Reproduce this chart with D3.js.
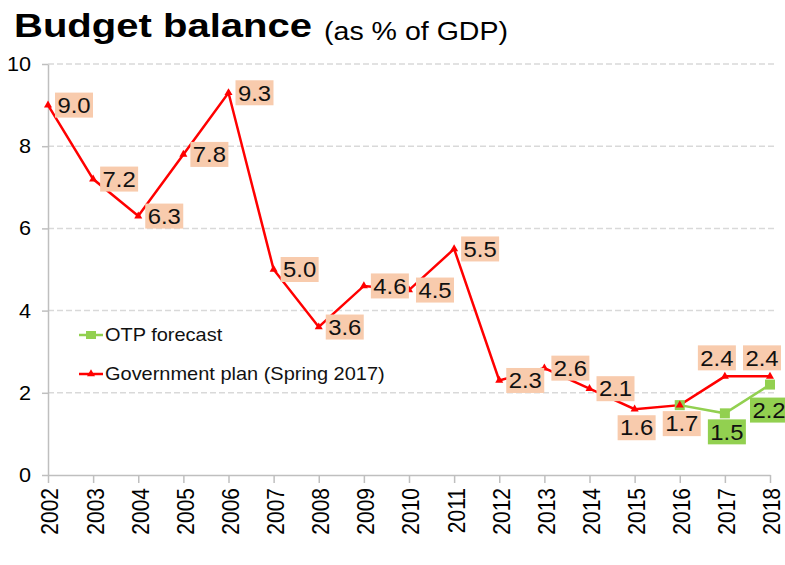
<!DOCTYPE html>
<html>
<head>
<meta charset="utf-8">
<script src="https://cdn.jsdelivr.net/npm/d3@7"></script>
<style>
  html, body { margin: 0; padding: 0; background: #fff; }
  svg { display: block; font-family: "Liberation Sans", Arial, sans-serif; }
</style>
</head>
<body>
<svg id="chart" width="785" height="565"></svg>
<script>
// ---- data ----
const years = ["2002","2003","2004","2005","2006","2007","2008","2009","2010","2011","2012","2013","2014","2015","2016","2017","2018"];
const govPlan = [9.0, 7.2, 6.3, 7.8, 9.3, 5.0, 3.6, 4.6, 4.5, 5.5, 2.3, 2.6, 2.1, 1.6, 1.7, 2.4, 2.4];
const otpYears = ["2016","2017","2018"];
const otpForecast = [1.7, 1.5, 2.2];
const yTicks = [0, 2, 4, 6, 8, 10];
const seriesNames = ["OTP forecast", "Government plan (Spring 2017)"];
const titleText = "Budget balance";
const subtitleText = "(as % of GDP)";
// label placement names (geometry handled in code)
const govLabelPlace = ["right","right","right","right","right","right","right","right","right","right","right","right","right","below","below","above","above"];
const otpLabelPlace = [null, "below", "belowFar"];

// ---- drawing ----
const svg = d3.select("#chart");
const SX = 1.11; // horizontal text stretch of the reference
const RED = "#ff0000", GREEN = "#92d050", PEACH = "#f8cbad";

const x = d3.scalePoint().domain(years).range([48, 770]);
const y = d3.scaleLinear().domain([0, 10]).range([475, 64]);

// title
svg.append("text").attr("x", 14).attr("y", 37)
  .attr("font-size", 33).attr("font-weight", "bold").attr("fill", "#000")
  .attr("textLength", 298).attr("lengthAdjust", "spacingAndGlyphs")
  .text(titleText);
svg.append("text").attr("x", 324).attr("y", 40)
  .attr("font-size", 25).attr("fill", "#000")
  .attr("textLength", 184).attr("lengthAdjust", "spacingAndGlyphs")
  .text(subtitleText);

// gridlines
svg.append("g").selectAll("line").data(yTicks.filter(d => d > 0)).join("line")
  .attr("x1", 48).attr("x2", 776)
  .attr("y1", d => y(d)).attr("y2", d => y(d))
  .attr("stroke", "#d9d9d9").attr("stroke-width", 1.5)
  .attr("stroke-dasharray", "6,3");

// y axis
const yAxis = svg.append("g").attr("transform", "translate(48,0)")
  .call(d3.axisLeft(y).tickValues(yTicks).tickSize(6).tickSizeOuter(0).tickFormat(""));
yAxis.select(".domain").attr("stroke", "#bfbfbf").attr("stroke-width", 1.5);
yAxis.selectAll(".tick line").attr("stroke", "#bfbfbf").attr("stroke-width", 1.5);

svg.append("g").selectAll("text").data(yTicks).join("text")
  .attr("transform", d => `translate(31,${y(d)}) scale(${SX},1)`)
  .attr("dy", "0.36em").attr("text-anchor", "end")
  .attr("font-size", 19.5).attr("fill", "#000")
  .text(d => d);

// x axis
const xAxis = svg.append("g").attr("transform", "translate(0,475)")
  .call(d3.axisBottom(x).tickSize(8).tickSizeOuter(0).tickFormat(""));
xAxis.select(".domain").attr("stroke", "#bfbfbf").attr("stroke-width", 1.5);
xAxis.selectAll(".tick line").attr("stroke", "#bfbfbf").attr("stroke-width", 1.5);

svg.append("g").selectAll("text").data(years).join("text")
  .attr("transform", d => `translate(${x(d)},488) rotate(-90) scale(1,${SX})`)
  .attr("dy", "0.45em").attr("text-anchor", "end")
  .attr("font-size", 21).attr("fill", "#000")
  .text(d => d);

// lines
const gov = years.map((yr, i) => ({ yr, v: govPlan[i], place: govLabelPlace[i] }));
const otp = otpYears.map((yr, i) => ({ yr, v: otpForecast[i], place: otpLabelPlace[i] }));
const line = d3.line().x(d => x(d.yr)).y(d => y(d.v));

svg.append("path").datum(otp).attr("d", line)
  .attr("fill", "none").attr("stroke", GREEN).attr("stroke-width", 2.5);
svg.append("path").datum(gov).attr("d", line)
  .attr("fill", "none").attr("stroke", RED).attr("stroke-width", 2.5);

// markers
svg.append("g").selectAll("rect").data(otp).join("rect")
  .attr("x", d => x(d.yr) - 5).attr("y", d => y(d.v) - 5)
  .attr("width", 10).attr("height", 10).attr("fill", GREEN);
const tri = d3.symbol().type(d3.symbolTriangle).size(28);
svg.append("g").selectAll("path").data(gov).join("path")
  .attr("transform", d => `translate(${x(d.yr)},${y(d.v)})`)
  .attr("d", tri).attr("fill", RED);

// data labels
function drawLabels(data, fill) {
  const g = svg.append("g");
  data.filter(d => d.place).forEach(d => {
    const px = x(d.yr), py = y(d.v);
    const w = 38, h = 25;
    let bx, by;
    if (d.place === "right") { bx = px + 7; by = py - h / 2; }
    else if (d.place === "below") { bx = px - w / 2 + 2; by = py + 6; }
    else if (d.place === "belowFar") { bx = px - 20; by = py + 13; }
    else { bx = px - w / 2 - 8; by = py - h - 6; }
    g.append("rect").attr("x", bx).attr("y", by).attr("width", w).attr("height", h).attr("fill", fill);
    g.append("text")
      .attr("transform", `translate(${bx + w / 2},${by + h / 2}) scale(${SX},1)`)
      .attr("dy", "0.36em").attr("text-anchor", "middle")
      .attr("font-size", 21.5).attr("fill", "#111")
      .text(d3.format(".1f")(d.v));
  });
}
drawLabels(gov, PEACH);
drawLabels(otp, GREEN);

// legend
const leg = svg.append("g");
const legY = [335, 374];
leg.append("line").attr("x1", 79).attr("x2", 103).attr("y1", legY[0]).attr("y2", legY[0])
  .attr("stroke", GREEN).attr("stroke-width", 2.5);
leg.append("rect").attr("x", 86).attr("y", legY[0] - 4).attr("width", 10).attr("height", 8).attr("fill", GREEN);
leg.append("line").attr("x1", 79).attr("x2", 103).attr("y1", legY[1]).attr("y2", legY[1])
  .attr("stroke", RED).attr("stroke-width", 2.5);
leg.append("path").attr("transform", `translate(91,${legY[1]})`).attr("d", tri).attr("fill", RED);
seriesNames.forEach((name, i) => {
  leg.append("text")
    .attr("transform", `translate(105,${legY[i]}) scale(${SX},1)`)
    .attr("dy", "0.36em").attr("font-size", 18).attr("fill", "#111")
    .text(name);
});
</script>
</body>
</html>
